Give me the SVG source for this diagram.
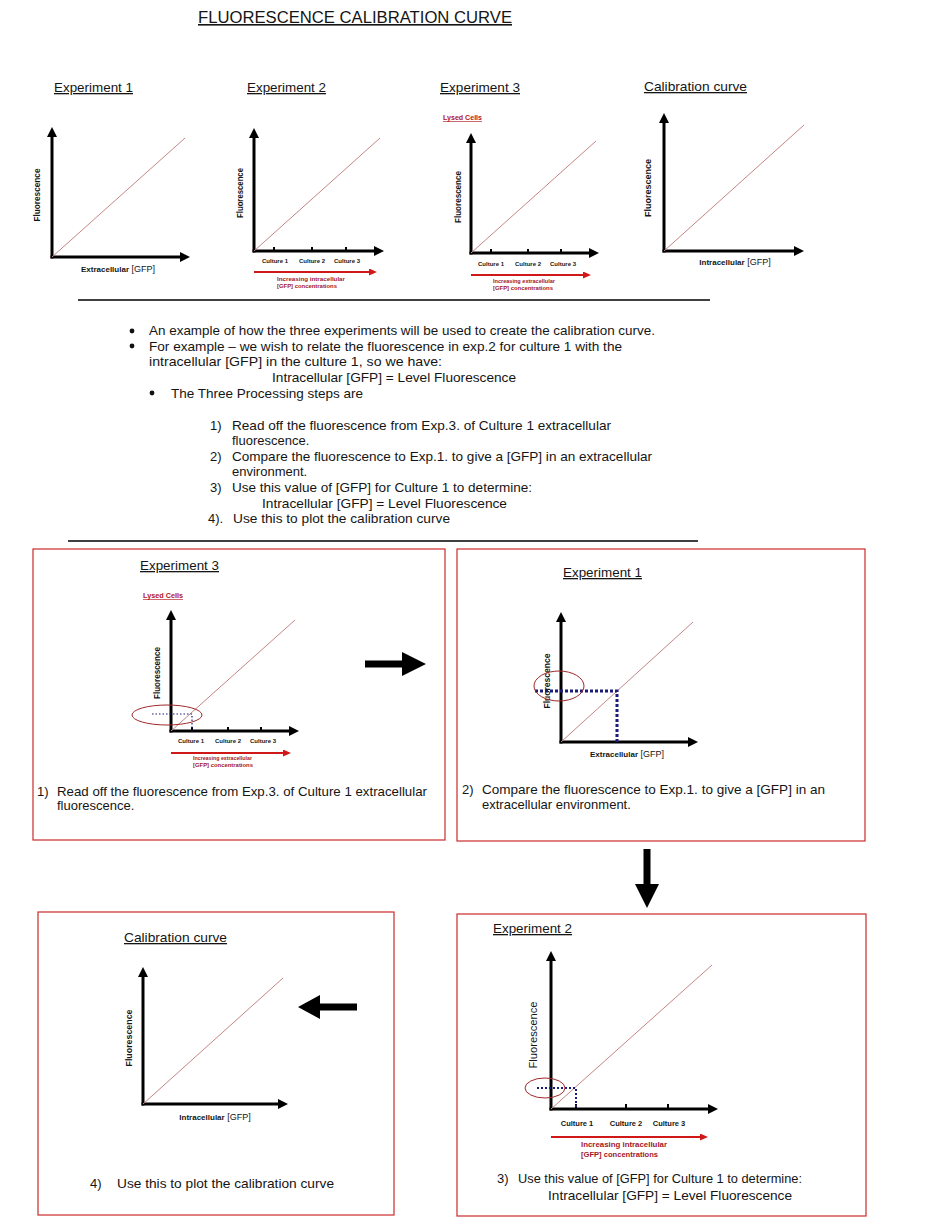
<svg xmlns="http://www.w3.org/2000/svg" width="938" height="1223" viewBox="0 0 938 1223">
<style>
text { font-family: "Liberation Sans", Arial, sans-serif; fill: #151515; }
.title { font-size: 16px; text-decoration: underline; }
.h { font-size: 13px; text-decoration: underline; }
.body { font-size: 13px; }
.fl { font-size: 8.5px; font-weight: bold; }
.axb { font-size: 8px; font-weight: bold; }
.axr { font-size: 9px; }
.cult { font-size: 6px; font-weight: bold; }
.red { fill: #a3161e; font-size: 6px; font-weight: bold; }
.lysed { fill: #b3161e; font-size: 6.5px; font-weight: bold; text-decoration: underline; }
.ax { stroke: #000; stroke-width: 3; fill: none; marker-end: url(#ah); }
.tick { stroke: #000; stroke-width: 2; }
.diag { stroke: #c48585; stroke-width: 1; fill: none; }
.rarr { stroke: #d01818; stroke-width: 2; fill: none; marker-end: url(#rh); }
.box { fill: none; stroke: #cc2a2a; stroke-width: 1.2; }
.ell { fill: none; stroke: #a02828; stroke-width: 1; }
.dot { stroke: #1b1b78; fill: none; }
.rule { stroke: #000; stroke-width: 1.5; }
.blk { fill: #000; }
</style>
<defs>
<marker id="ah" markerUnits="userSpaceOnUse" markerWidth="10" markerHeight="10" refX="0" refY="5" orient="auto"><path d="M0,0 L10,5 L0,10 z" fill="#000"/></marker>
<marker id="rh" markerUnits="userSpaceOnUse" markerWidth="8" markerHeight="7" refX="0" refY="3.5" orient="auto"><path d="M0,0 L8,3.5 L0,7 z" fill="#d01818"/></marker>
</defs>
<rect width="938" height="1223" fill="#fff"/>

<text id="title" class="title" x="198" y="23" textLength="314" lengthAdjust="spacingAndGlyphs">FLUORESCENCE CALIBRATION CURVE</text>

<!-- Top row graphs -->
<g id="top-exp1">
<text class="h" x="54" y="92" textLength="79" lengthAdjust="spacingAndGlyphs">Experiment 1</text>
<path class="ax" d="M52,258.5 L52,137"/>
<path class="ax" d="M50.5,257 L180,257"/>
<path class="diag" d="M52,257 L185,138"/>
<text class="fl" transform="translate(40,195) rotate(-90)" text-anchor="middle" textLength="53" lengthAdjust="spacingAndGlyphs">Fluorescence</text>
<text x="118" y="272" text-anchor="middle"><tspan class="axb">Extracellular</tspan><tspan class="axr"> [GFP]</tspan></text>
</g>

<g id="top-exp2">
<text class="h" x="247" y="92" textLength="79" lengthAdjust="spacingAndGlyphs">Experiment 2</text>
<path class="ax" d="M254,252.5 L254,138"/>
<path class="ax" d="M252.5,251 L374,251"/>
<path class="diag" d="M254,251 L380,138"/>
<line class="tick" x1="274" y1="247" x2="274" y2="252"/>
<line class="tick" x1="312" y1="247" x2="312" y2="252"/>
<line class="tick" x1="346" y1="247" x2="346" y2="252"/>
<text class="fl" transform="translate(243,193) rotate(-90)" text-anchor="middle" textLength="50" lengthAdjust="spacingAndGlyphs">Fluorescence</text>
<text class="cult" x="275" y="263" text-anchor="middle">Culture 1</text>
<text class="cult" x="312" y="263" text-anchor="middle">Culture 2</text>
<text class="cult" x="347" y="263" text-anchor="middle">Culture 3</text>
<path class="rarr" d="M254,272 L369,272"/>
<text class="red" x="277" y="281" textLength="68" lengthAdjust="spacingAndGlyphs">Increasing intracellular</text>
<text class="red" x="277" y="287.5" textLength="60" lengthAdjust="spacingAndGlyphs">[GFP] concentrations</text>
</g>

<g id="top-exp3">
<text class="h" x="440" y="92" textLength="80" lengthAdjust="spacingAndGlyphs">Experiment 3</text>
<text class="lysed" x="443" y="120" textLength="39" lengthAdjust="spacingAndGlyphs">Lysed Cells</text>
<path class="ax" d="M471,254.5 L471,143"/>
<path class="ax" d="M469.5,253 L589,253"/>
<path class="diag" d="M471,253 L596,141"/>
<line class="tick" x1="491" y1="249" x2="491" y2="254"/>
<line class="tick" x1="528" y1="249" x2="528" y2="254"/>
<line class="tick" x1="561" y1="249" x2="561" y2="254"/>
<text class="fl" transform="translate(461,197) rotate(-90)" text-anchor="middle" textLength="52" lengthAdjust="spacingAndGlyphs">Fluorescence</text>
<text class="cult" x="491" y="266" text-anchor="middle">Culture 1</text>
<text class="cult" x="528" y="266" text-anchor="middle">Culture 2</text>
<text class="cult" x="563" y="266" text-anchor="middle">Culture 3</text>
<path class="rarr" d="M471,275 L583,275"/>
<text class="red" x="493" y="283" textLength="62" lengthAdjust="spacingAndGlyphs">Increasing extracellular</text>
<text class="red" x="493" y="290" textLength="60" lengthAdjust="spacingAndGlyphs">[GFP] concentrations</text>
</g>

<g id="top-calibration">
<text class="h" x="644" y="91" textLength="103" lengthAdjust="spacingAndGlyphs">Calibration curve</text>
<path class="ax" d="M664,252.5 L664,123"/>
<path class="ax" d="M662.5,251 L794,251"/>
<path class="diag" d="M664,251 L804,125"/>
<text class="fl" transform="translate(651,188) rotate(-90)" text-anchor="middle" textLength="58" lengthAdjust="spacingAndGlyphs">Fluorescence</text>
<text x="735" y="265" text-anchor="middle"><tspan class="axb">Intracellular</tspan><tspan class="axr"> [GFP]</tspan></text>
</g>

<line class="rule" x1="78" y1="300" x2="710" y2="300"/>

<g id="explanation">
<circle cx="132" cy="331" r="2.4" fill="#111"/>
<circle cx="132" cy="346" r="2.4" fill="#111"/>
<circle cx="152" cy="393" r="2.4" fill="#111"/>
<text class="body" x="149" y="335" textLength="506" lengthAdjust="spacingAndGlyphs">An example of how the three experiments will be used to create the calibration curve.</text>
<text class="body" x="149" y="351" textLength="473" lengthAdjust="spacingAndGlyphs">For example – we wish to relate the fluorescence in exp.2 for culture 1 with the</text>
<text class="body" x="149" y="366" textLength="293" lengthAdjust="spacingAndGlyphs">intracellular [GFP] in the culture 1, so we have:</text>
<text class="body" x="272" y="382" textLength="244" lengthAdjust="spacingAndGlyphs">Intracellular [GFP] = Level Fluorescence</text>
<text class="body" x="171" y="398" textLength="192" lengthAdjust="spacingAndGlyphs">The Three Processing steps are</text>
<text class="body" x="210" y="430">1)</text>
<text class="body" x="232" y="430" textLength="379" lengthAdjust="spacingAndGlyphs">Read off the fluorescence from Exp.3. of Culture 1 extracellular</text>
<text class="body" x="232" y="445">fluorescence.</text>
<text class="body" x="210" y="461">2)</text>
<text class="body" x="232" y="461" textLength="420" lengthAdjust="spacingAndGlyphs">Compare the fluorescence to Exp.1. to give a [GFP] in an extracellular</text>
<text class="body" x="232" y="476">environment.</text>
<text class="body" x="210" y="492">3)</text>
<text class="body" x="232" y="492" textLength="300" lengthAdjust="spacingAndGlyphs">Use this value of [GFP] for Culture 1 to determine:</text>
<text class="body" x="262" y="508" textLength="245" lengthAdjust="spacingAndGlyphs">Intracellular [GFP] = Level Fluorescence</text>
<text class="body" x="208" y="523">4).</text>
<text class="body" x="233" y="523" textLength="217" lengthAdjust="spacingAndGlyphs">Use this to plot the calibration curve</text>
</g>

<line class="rule" x1="68" y1="541" x2="698" y2="541"/>

<!-- Step panels -->
<g id="step1">
<rect class="box" x="33" y="549" width="412" height="291"/>
<text class="h" x="140" y="570" textLength="79" lengthAdjust="spacingAndGlyphs">Experiment 3</text>
<text class="lysed" x="143" y="598" textLength="40" lengthAdjust="spacingAndGlyphs">Lysed Cells</text>
<path class="ax" d="M171,732.5 L171,620"/>
<path class="ax" d="M169.5,731 L289,731"/>
<path class="diag" d="M171,731 L295,620"/>
<line class="tick" x1="192" y1="727" x2="192" y2="732"/>
<line class="tick" x1="228" y1="727" x2="228" y2="732"/>
<line class="tick" x1="261" y1="727" x2="261" y2="732"/>
<text class="fl" transform="translate(160,673) rotate(-90)" text-anchor="middle" textLength="52" lengthAdjust="spacingAndGlyphs">Fluorescence</text>
<path class="dot" stroke-width="1.2" stroke-dasharray="1.5,2" d="M152,714 L192,714 L192,731"/>
<ellipse class="ell" cx="167" cy="715" rx="35" ry="10"/>
<text class="cult" x="191" y="743" text-anchor="middle">Culture 1</text>
<text class="cult" x="228" y="743" text-anchor="middle">Culture 2</text>
<text class="cult" x="263" y="743" text-anchor="middle">Culture 3</text>
<path class="rarr" d="M171,753 L283,753"/>
<text class="red" x="193" y="760" textLength="59" lengthAdjust="spacingAndGlyphs">Increasing extracellular</text>
<text class="red" x="193" y="767" textLength="60" lengthAdjust="spacingAndGlyphs">[GFP] concentrations</text>
<text class="body" x="37" y="796">1)</text>
<text class="body" x="57" y="796" textLength="370" lengthAdjust="spacingAndGlyphs">Read off the fluorescence from Exp.3. of Culture 1 extracellular</text>
<text class="body" x="57" y="810">fluorescence.</text>
</g>

<g id="step2">
<rect class="box" x="457" y="549" width="408" height="292"/>
<text class="h" x="563" y="577" textLength="79" lengthAdjust="spacingAndGlyphs">Experiment 1</text>
<path class="ax" d="M561,743.5 L561,622"/>
<path class="ax" d="M559.5,742 L688,742"/>
<path class="diag" d="M561,742 L693,622"/>
<text class="fl" transform="translate(550,681) rotate(-90)" text-anchor="middle" textLength="55" lengthAdjust="spacingAndGlyphs">Fluorescence</text>
<path class="dot" stroke-width="3" stroke-dasharray="3,2" d="M535,691 L617,691 L617,742"/>
<ellipse class="ell" cx="559" cy="686" rx="25" ry="15"/>
<text x="627" y="757" text-anchor="middle"><tspan class="axb">Extracellular</tspan><tspan class="axr"> [GFP]</tspan></text>
<text class="body" x="462" y="794">2)</text>
<text class="body" x="482" y="794" textLength="343" lengthAdjust="spacingAndGlyphs">Compare the fluorescence to Exp.1. to give a [GFP] in an</text>
<text class="body" x="482" y="809">extracellular environment.</text>
</g>

<g id="step4">
<rect class="box" x="38" y="912" width="356" height="303"/>
<text class="h" x="124" y="942" textLength="103" lengthAdjust="spacingAndGlyphs">Calibration curve</text>
<path class="ax" d="M143,1105.5 L143,977"/>
<path class="ax" d="M141.5,1104 L278,1104"/>
<path class="diag" d="M143,1104 L283,978"/>
<text class="fl" transform="translate(132,1038) rotate(-90)" text-anchor="middle" textLength="57" lengthAdjust="spacingAndGlyphs">Fluorescence</text>
<text x="215" y="1120" text-anchor="middle"><tspan class="axb">Intracellular</tspan><tspan class="axr"> [GFP]</tspan></text>
<text class="body" x="90" y="1188">4)</text>
<text class="body" x="117" y="1188" textLength="217" lengthAdjust="spacingAndGlyphs">Use this to plot the calibration curve</text>
</g>

<g id="step3">
<rect class="box" x="457" y="914" width="409" height="302"/>
<text class="h" x="493" y="933" textLength="79" lengthAdjust="spacingAndGlyphs">Experiment 2</text>
<path class="ax" d="M551,1110.5 L551,961"/>
<path class="ax" d="M549.5,1109 L708,1109"/>
<path class="diag" d="M551,1109 L712,965"/>
<line class="tick" x1="576" y1="1104" x2="576" y2="1110"/>
<line class="tick" x1="626" y1="1104" x2="626" y2="1110"/>
<line class="tick" x1="668" y1="1104" x2="668" y2="1110"/>
<text transform="translate(537,1035) rotate(-90)" text-anchor="middle" font-size="11" textLength="67" lengthAdjust="spacingAndGlyphs">Fluorescence</text>
<path class="dot" stroke-width="2" stroke-dasharray="2,2" d="M537,1088 L576,1088 L576,1109"/>
<ellipse class="ell" cx="545" cy="1088" rx="20" ry="10"/>
<text class="cult" style="font-size:7.5px" x="577" y="1126" text-anchor="middle">Culture 1</text>
<text class="cult" style="font-size:7.5px" x="626" y="1126" text-anchor="middle">Culture 2</text>
<text class="cult" style="font-size:7.5px" x="669" y="1126" text-anchor="middle">Culture 3</text>
<path class="rarr" d="M551,1137 L700,1137"/>
<text class="red" style="font-size:7.5px" x="581" y="1147" textLength="86" lengthAdjust="spacingAndGlyphs">Increasing intracellular</text>
<text class="red" style="font-size:7.5px" x="581" y="1157" textLength="77" lengthAdjust="spacingAndGlyphs">[GFP] concentrations</text>
<text class="body" x="497" y="1183">3)</text>
<text class="body" x="518" y="1183" textLength="284" lengthAdjust="spacingAndGlyphs">Use this value of [GFP] for Culture 1 to determine:</text>
<text class="body" x="548" y="1200" textLength="244" lengthAdjust="spacingAndGlyphs">Intracellular [GFP] = Level Fluorescence</text>
</g>

<g id="connectors">
<path class="blk" d="M365,660.5 L402,660.5 L402,652 L426,664 L402,676 L402,667.5 L365,667.5 z"/>
<path class="blk" d="M643.5,849 L650.5,849 L650.5,884 L659,884 L647,908 L635,884 L643.5,884 z"/>
<path class="blk" d="M357,1003.5 L320,1003.5 L320,995 L298,1007 L320,1019 L320,1010.5 L357,1010.5 z"/>
</g>
</svg>
